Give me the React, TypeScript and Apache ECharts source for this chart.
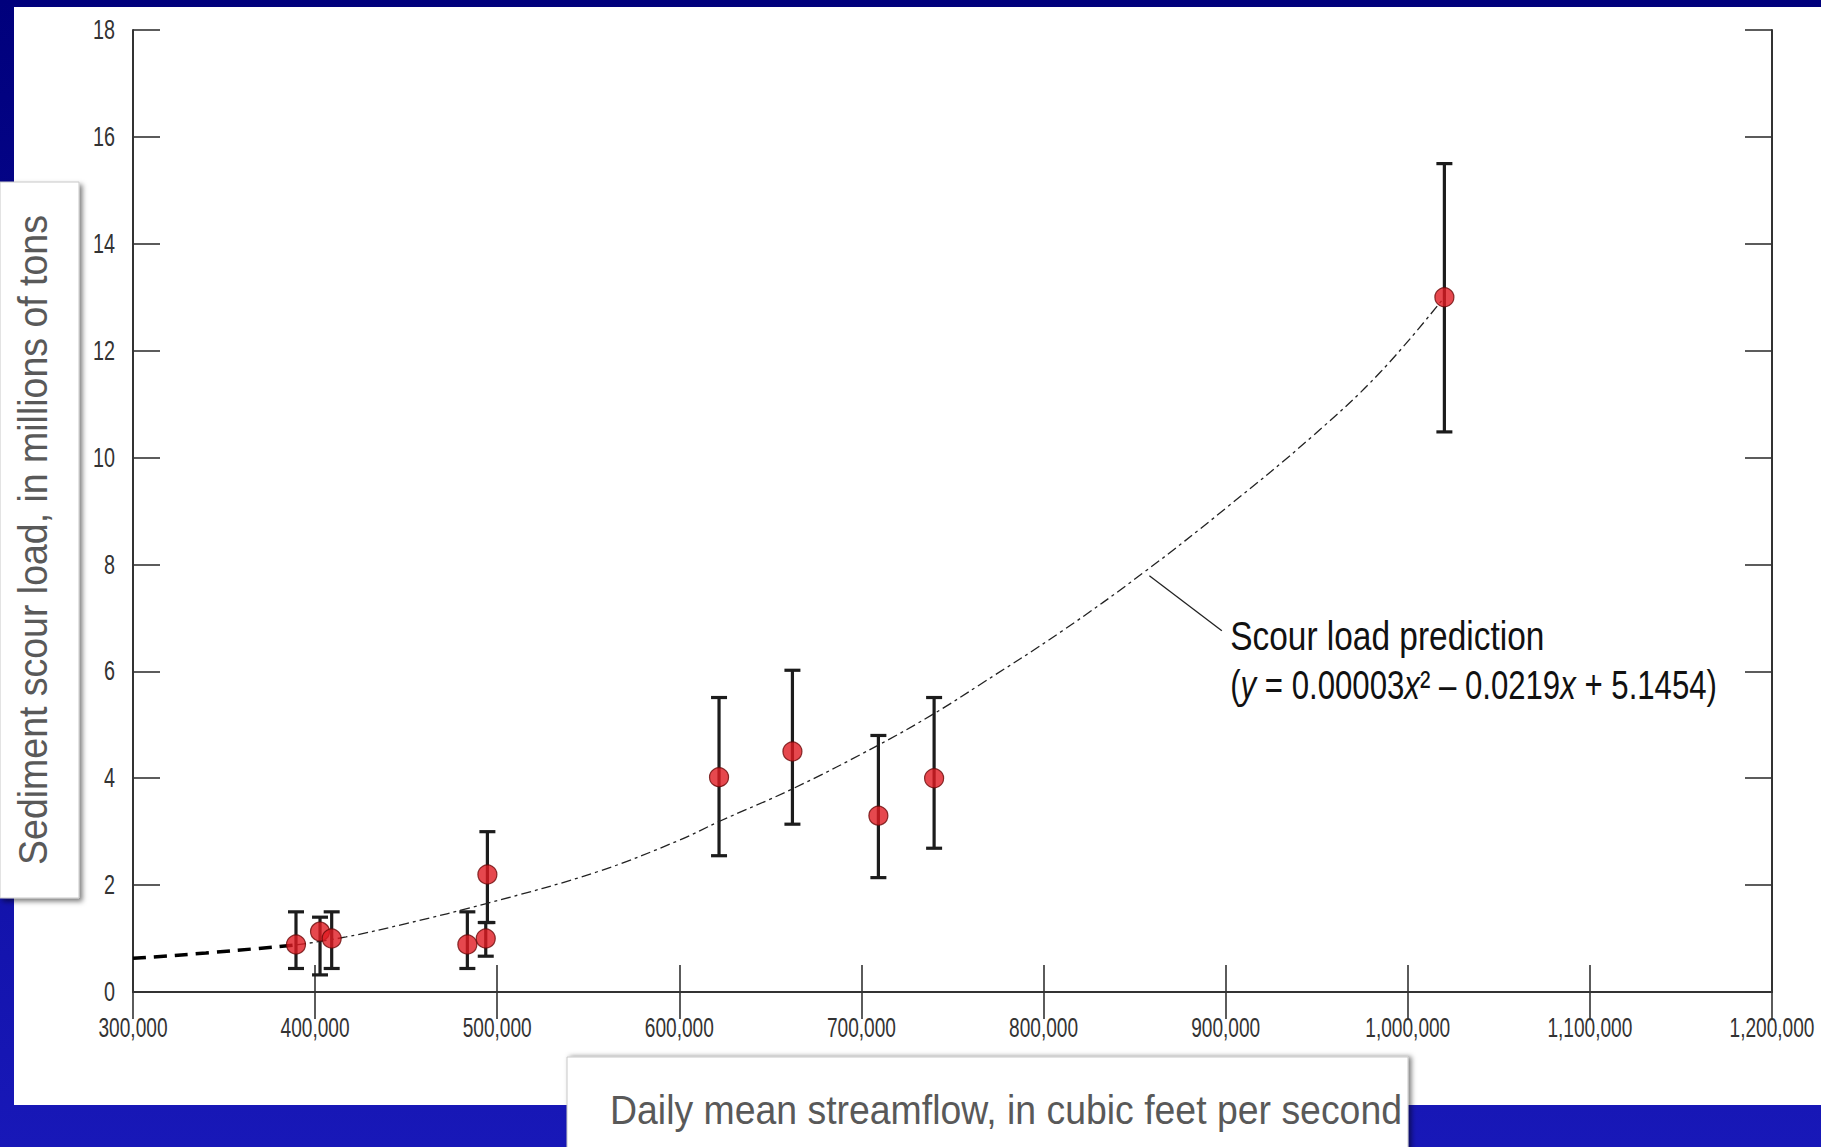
import React, { useEffect, useRef } from "react";
import * as echarts from "echarts";

// ---- Axis scales and tick labels ----
const X_MIN = 300000;
const X_MAX = 1200000;
const X_STEP = 100000;
const Y_MIN = 0;
const Y_MAX = 18;
const Y_STEP = 2;
const xTickValues = [300000, 400000, 500000, 600000, 700000, 800000, 900000, 1000000, 1100000, 1200000];
const yTickValues = [0, 2, 4, 6, 8, 10, 12, 14, 16, 18];

// ---- Observations (daily mean streamflow, cfs / scour load, million tons) ----
const flow = [389500, 402700, 409100, 483600, 493700, 494600, 621800, 662100, 709300, 739900, 1020100];
const load = [0.89, 1.13, 1.0, 0.89, 1.0, 2.2, 4.02, 4.5, 3.3, 4.0, 13.0];
const errLow = [0.44, 0.32, 0.44, 0.44, 0.67, 1.3, 2.55, 3.14, 2.14, 2.69, 10.48];
const errHigh = [1.5, 1.4, 1.5, 1.5, 1.3, 3.0, 5.51, 6.02, 4.8, 5.51, 15.5];

// ---- Scour load prediction curve ----
const fitFlow = [389500, 417000, 450000, 494600, 555000, 600000, 621800, 662100, 709300, 739900, 765000, 810000, 855000, 900000, 948000, 985000, 1020100];
const fitLoad = [0.88, 1.03, 1.28, 1.66, 2.25, 2.84, 3.19, 3.8, 4.62, 5.21, 5.75, 6.75, 7.85, 9.05, 10.41, 11.6, 13.0];

// ---- Extrapolated part of the curve (thick dashes) ----
const extFlow = [300000, 340000, 389500];
const extLoad = [0.63, 0.73, 0.88];

// ---- Annotation ----
const noteTitle = "Scour load prediction";
const noteEquation = "({i|y} = 0.00003{i|x}² – 0.0219{i|x} + 5.1454)";
const noteEquationPlain = "(y = 0.00003x² – 0.0219x + 5.1454)";
const noteLeader = [858100, 7.79, 897900, 6.76];
const noteAnchor = [902500, 6.66, 5.74];

const yTitle = "Sediment scour load, in millions of tons";
const xTitle = "Daily mean streamflow, in cubic feet per second";

const FONT = "'Liberation Sans', Arimo, Arial, sans-serif";

function measure(text: string, size: number, italic = false): number {
  const ctx = document.createElement("canvas").getContext("2d");
  if (!ctx) return text.length * size * 0.5;
  ctx.font = `${italic ? "italic " : ""}${size}px ${FONT}`;
  return ctx.measureText(text).width;
}

const fmtThousands = (v: number) => v.toLocaleString("en-US");

export default function App() {
  const ref = useRef<HTMLDivElement>(null);

  useEffect(() => {
    document.body.style.margin = "0";
    const chart = echarts.init(ref.current!, undefined, { renderer: "svg" });

    // condensed look: horizontal squeeze factors fitted to the reference widths
    const X_LABEL_SIZE = 27;
    const Y_LABEL_SIZE = 27;
    const sxX = 69 / measure("300,000", X_LABEL_SIZE);
    const sxY = 22 / measure("18", Y_LABEL_SIZE);
    const TITLE_SIZE = 40;
    const sxYTitle = 650 / measure(yTitle, TITLE_SIZE);
    const sxXTitle = 792 / measure(xTitle, TITLE_SIZE);
    const NOTE_SIZE = 40;
    const sxNote1 = 314 / measure(noteTitle, NOTE_SIZE);
    const sxNote2 = 487 / measure(noteEquationPlain, NOTE_SIZE);

    const axisLine = { show: true, lineStyle: { color: "#333", width: 2 } };
    const axisTick = { show: true, inside: true, length: 27, lineStyle: { color: "#333", width: 1.6 } };

    const option: any = {
      animation: false,
      backgroundColor: {
        type: "linear", x: 0, y: 0, x2: 0, y2: 1,
        colorStops: [
          { offset: 0, color: "#00007c" },
          { offset: 1, color: "#1818b8" },
        ],
      },
      grid: { left: 133, top: 30, width: 1639, height: 962, containLabel: false },
      xAxis: [
        {
          type: "value", position: "bottom", min: X_MIN, max: X_MAX, interval: X_STEP,
          axisLine, axisTick, splitLine: { show: false }, axisLabel: { show: false },
        },
        {
          type: "value", position: "top", min: X_MIN, max: X_MAX, interval: X_STEP,
          axisLine, axisTick, splitLine: { show: false }, axisLabel: { show: false },
        },
      ],
      yAxis: [
        {
          type: "value", position: "left", min: Y_MIN, max: Y_MAX, interval: Y_STEP,
          axisLine, axisTick, splitLine: { show: false }, axisLabel: { show: false },
        },
        {
          type: "value", position: "right", min: Y_MIN, max: Y_MAX, interval: Y_STEP,
          axisLine, axisTick, splitLine: { show: false }, axisLabel: { show: false },
        },
      ],
      graphic: {
        elements: [
          {
            type: "rect", silent: true, z: -100,
            shape: { x: 14, y: 7, width: 1807, height: 1098 },
            style: { fill: "#ffffff" },
          },
          {
            type: "rect", silent: true, z: 50,
            shape: { x: 0, y: 182, width: 79, height: 716 },
            style: {
              fill: "#ffffff", stroke: "#c8c8c8", lineWidth: 1,
              shadowBlur: 5, shadowOffsetX: 3, shadowOffsetY: 3, shadowColor: "rgba(0,0,0,0.5)",
            },
          },
          {
            type: "text", silent: true, z: 51,
            x: 33, y: 540, rotation: Math.PI / 2, scaleX: sxYTitle,
            style: {
              text: yTitle, fill: "#595959", fontFamily: FONT, fontSize: TITLE_SIZE,
              align: "center", verticalAlign: "middle",
            },
          },
          {
            type: "rect", silent: true, z: 50,
            shape: { x: 567, y: 1057, width: 841, height: 110 },
            style: {
              fill: "#ffffff", stroke: "#c8c8c8", lineWidth: 1,
              shadowBlur: 5, shadowOffsetX: 3, shadowOffsetY: 0, shadowColor: "rgba(0,0,0,0.5)",
            },
          },
          {
            type: "text", silent: true, z: 51,
            x: 1006, y: 1110, scaleX: sxXTitle,
            style: {
              text: xTitle, fill: "#595959", fontFamily: FONT, fontSize: TITLE_SIZE,
              align: "center", verticalAlign: "middle",
            },
          },
        ],
      },
      series: [
        {
          name: "Error bars",
          type: "custom",
          z: 2,
          data: flow.map((f, i) => [f, errLow[i], errHigh[i]]),
          renderItem: (_p: any, api: any) => {
            const x = api.value(0);
            const top = api.coord([x, api.value(2)]);
            const bot = api.coord([x, api.value(1)]);
            const hw = 8;
            const st = { stroke: "#1c1c1c", lineWidth: 3.2 };
            return {
              type: "group",
              children: [
                { type: "line", shape: { x1: top[0], y1: top[1], x2: bot[0], y2: bot[1] }, style: st },
                { type: "line", shape: { x1: top[0] - hw, y1: top[1], x2: top[0] + hw, y2: top[1] }, style: st },
                { type: "line", shape: { x1: bot[0] - hw, y1: bot[1], x2: bot[0] + hw, y2: bot[1] }, style: st },
              ],
            };
          },
        },
        {
          name: "Extrapolation",
          type: "line",
          z: 3,
          data: extFlow.map((f, i) => [f, extLoad[i]]),
          smooth: true,
          showSymbol: false,
          lineStyle: { color: "#000", width: 3.5, type: [13, 8] },
        },
        {
          name: "Scour load prediction",
          type: "line",
          z: 3,
          data: fitFlow.map((f, i) => [f, fitLoad[i]]),
          smooth: 0.4,
          showSymbol: false,
          lineStyle: { color: "#222", width: 1.3, type: [10, 4, 3, 4] },
        },
        {
          name: "Observed",
          type: "scatter",
          z: 4,
          data: flow.map((f, i) => [f, load[i]]),
          symbol: "circle",
          symbolSize: 19,
          itemStyle: { color: "#e01a22", borderColor: "#6a0808", borderWidth: 1.2 },
        },
        {
          name: "X tick labels",
          type: "custom",
          z: 6,
          clip: false,
          silent: true,
          data: xTickValues.map((v) => [v, Y_MIN]),
          renderItem: (_p: any, api: any) => {
            const v = api.value(0);
            const p = api.coord([v, api.value(1)]);
            return {
              type: "text", x: p[0], y: p[1] + 36, scaleX: sxX,
              style: {
                text: fmtThousands(v), fill: "#333", fontFamily: FONT, fontSize: X_LABEL_SIZE,
                align: "center", verticalAlign: "middle",
              },
            };
          },
        },
        {
          name: "Y tick labels",
          type: "custom",
          z: 6,
          clip: false,
          silent: true,
          data: yTickValues.map((v) => [X_MIN, v]),
          renderItem: (_p: any, api: any) => {
            const v = api.value(1);
            const p = api.coord([api.value(0), v]);
            return {
              type: "text", x: p[0] - 18, y: p[1], scaleX: sxY,
              style: {
                text: String(v), fill: "#333", fontFamily: FONT, fontSize: Y_LABEL_SIZE,
                align: "right", verticalAlign: "middle",
              },
            };
          },
        },
        {
          name: "Annotation",
          type: "custom",
          z: 5,
          clip: false,
          data: [[noteLeader[0], noteLeader[1], noteLeader[2], noteLeader[3]]],
          renderItem: (_p: any, api: any) => {
            const a = api.coord([api.value(0), api.value(1)]);
            const b = api.coord([api.value(2), api.value(3)]);
            const t1 = api.coord([noteAnchor[0], noteAnchor[1]]);
            const t2 = api.coord([noteAnchor[0], noteAnchor[2]]);
            return {
              type: "group",
              children: [
                { type: "line", shape: { x1: a[0], y1: a[1], x2: b[0], y2: b[1] }, style: { stroke: "#222", lineWidth: 1.3 } },
                {
                  type: "text", x: t1[0], y: t1[1], scaleX: sxNote1,
                  style: { text: noteTitle, fill: "#111", fontFamily: FONT, fontSize: NOTE_SIZE, align: "left", verticalAlign: "middle" },
                },
                {
                  type: "text", x: t2[0], y: t2[1], scaleX: sxNote2,
                  style: {
                    text: noteEquation, fill: "#111", fontFamily: FONT, fontSize: NOTE_SIZE,
                    align: "left", verticalAlign: "middle",
                    rich: { i: { fontStyle: "italic", fontFamily: FONT, fontSize: NOTE_SIZE, fill: "#111" } },
                  },
                },
              ],
            };
          },
        },
      ],
    };

    chart.setOption(option);
    return () => chart.dispose();
  }, []);

  return (
    <div
      ref={ref}
      style={{ position: "fixed", left: 0, top: 0, width: 1821, height: 1147 }}
    />
  );
}
